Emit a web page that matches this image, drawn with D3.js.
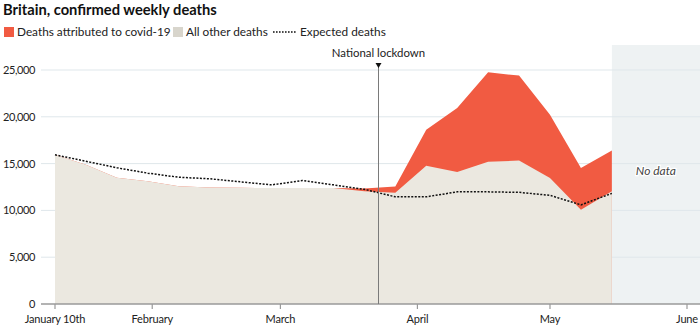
<!DOCTYPE html>
<html>
<head>
<meta charset="utf-8">
<script src="https://cdn.jsdelivr.net/npm/d3@7"></script>
<style>
  body { margin: 0; background: #fff; }
  svg { display: block; font-family: Lato, "Open Sans", sans-serif; }
</style>
</head>
<body>
<svg id="chart" width="700" height="331"></svg>
<script>
// Weekly figures, week ending (Friday)
const weeks = [
  "2020-01-10", "2020-01-17", "2020-01-24", "2020-01-31", "2020-02-07",
  "2020-02-14", "2020-02-21", "2020-02-28", "2020-03-06", "2020-03-13",
  "2020-03-20", "2020-03-27", "2020-04-03", "2020-04-10", "2020-04-17",
  "2020-04-24", "2020-05-01", "2020-05-08", "2020-05-15"
];
const otherDeaths = [
  15940, 14870, 13480, 13110, 12570, 12440, 12410, 12400, 12400, 12380,
  12050, 11880, 14770, 14090, 15190, 15330, 13450, 10060, 12040
];
const covidDeaths = [
  0, 0, 0, 0, 0, 0, 0, 0, 0, 20,
  300, 670, 3850, 6850, 9560, 9070, 6770, 4460, 4360
];
const expectedDeaths = [
  15940, 15250, 14550, 13980, 13540, 13380, 13050, 12730, 13190, 12730,
  12250, 11450, 11450, 11980, 11980, 11930, 11610, 10590, 11820
];
const yTicks = [0, 5000, 10000, 15000, 20000, 25000];
const xTicks = ["2020-01-10", "2020-02-01", "2020-03-01", "2020-04-01", "2020-05-01", "2020-06-01"];
const xTickLabels = ["January 10th", "February", "March", "April", "May", "June"];
const lockdownDate = "2020-03-23";
const noDataFrom = "2020-05-15";

const parse = d3.utcParse("%Y-%m-%d");
const rows = weeks.map((w, i) => ({
  date: parse(w),
  other: otherDeaths[i],
  total: otherDeaths[i] + covidDeaths[i],
  expected: expectedDeaths[i]
}));

const svg = d3.select("#chart");
const plotLeft = 41, plotRight = 700, plotTop = 45, plotBottom = 304;

const x = d3.scaleUtc()
  .domain([parse("2020-01-10"), parse("2020-06-01")])
  .range([55, 687]);
const y = d3.scaleLinear().domain([0, 25000]).range([plotBottom, 70]);

// Title and legend
svg.append("text")
  .attr("x", 3).attr("y", 15)
  .attr("font-size", 14.7).attr("font-weight", 700).attr("fill", "#111")
  .text("Britain, confirmed weekly deaths");

const legend = svg.append("g").attr("font-size", 11.8).attr("fill", "#222");
legend.append("rect").attr("x", 4).attr("y", 27).attr("width", 10).attr("height", 10).attr("fill", "#f15b42");
legend.append("text").attr("x", 17).attr("y", 36).text("Deaths attributed to covid-19");
legend.append("rect").attr("x", 173).attr("y", 27).attr("width", 10).attr("height", 10).attr("fill", "#d8d5cc");
legend.append("text").attr("x", 186).attr("y", 36).text("All other deaths");
legend.append("line").attr("x1", 273).attr("x2", 296).attr("y1", 32).attr("y2", 32)
  .attr("stroke", "#111").attr("stroke-width", 1.4).attr("stroke-dasharray", "1.6,1.4");
legend.append("text").attr("x", 300).attr("y", 36).text("Expected deaths");

// No-data band
const xNoData = x(parse(noDataFrom));
svg.append("rect")
  .attr("x", xNoData).attr("y", plotTop)
  .attr("width", plotRight - xNoData).attr("height", plotBottom - plotTop)
  .attr("fill", "#eef2f3");

// Gridlines
svg.append("g")
  .selectAll("line")
  .data(yTicks.filter(d => d > 0))
  .join("line")
  .attr("x1", plotLeft).attr("x2", plotRight)
  .attr("y1", d => y(d)).attr("y2", d => y(d))
  .attr("stroke", "#dfe7eb").attr("stroke-width", 1);

// Stacked areas
const areaTotal = d3.area()
  .x(d => x(d.date)).y0(d => y(0)).y1(d => y(d.total));
const areaOther = d3.area()
  .x(d => x(d.date)).y0(d => y(0)).y1(d => y(d.other));

svg.append("path").datum(rows).attr("d", areaTotal).attr("fill", "#f15b42");
svg.append("path").datum(rows).attr("d", areaOther).attr("fill", "#ebe8e0");

// Expected deaths
svg.append("path").datum(rows)
  .attr("d", d3.line().x(d => x(d.date)).y(d => y(d.expected)))
  .attr("fill", "none").attr("stroke", "#111")
  .attr("stroke-width", 1.5).attr("stroke-dasharray", "2,1.5");

// Y axis labels
svg.append("g")
  .selectAll("text")
  .data(yTicks)
  .join("text")
  .attr("x", 35).attr("y", d => y(d) + 4)
  .attr("text-anchor", "end").attr("font-size", 11).attr("letter-spacing", -0.4).attr("fill", "#222")
  .text(d => d3.format(",")(d));

// X axis
const xAxis = svg.append("g").attr("transform", `translate(0,${plotBottom})`);
xAxis.append("line").attr("x1", plotLeft).attr("x2", plotRight).attr("stroke", "#9a9a9a").attr("stroke-width", 1.5);
xAxis.selectAll(".tick")
  .data(xTicks)
  .join("line")
  .attr("class", "tick")
  .attr("x1", d => x(parse(d))).attr("x2", d => x(parse(d)))
  .attr("y1", 0).attr("y2", 5)
  .attr("stroke", "#9a9a9a").attr("stroke-width", 1.2);
xAxis.selectAll(".label")
  .data(xTicks)
  .join("text")
  .attr("class", "label")
  .attr("x", d => x(parse(d))).attr("y", 19)
  .attr("text-anchor", "middle").attr("font-size", 11).attr("letter-spacing", -0.2).attr("fill", "#222")
  .text((d, i) => xTickLabels[i]);

// Lockdown marker
const xl = Math.round(x(parse(lockdownDate))) + 0.5;
svg.append("line")
  .attr("x1", xl).attr("x2", xl).attr("y1", 64).attr("y2", plotBottom)
  .attr("stroke", "#7a7a7a").attr("stroke-width", 1);
svg.append("path")
  .attr("d", `M${xl - 3},63 L${xl + 3},63 L${xl},68 Z`).attr("fill", "#111");
svg.append("text")
  .attr("x", xl).attr("y", 57).attr("text-anchor", "middle")
  .attr("font-size", 11.4).attr("fill", "#222")
  .text("National lockdown");

// No-data label
svg.append("text")
  .attr("x", (xNoData + plotRight) / 2).attr("y", 175)
  .attr("text-anchor", "middle").attr("font-size", 12).attr("font-style", "italic")
  .attr("fill", "#444").attr("stroke", "#fff").attr("stroke-width", 2.5)
  .attr("paint-order", "stroke")
  .text("No data");
</script>
</body>
</html>
